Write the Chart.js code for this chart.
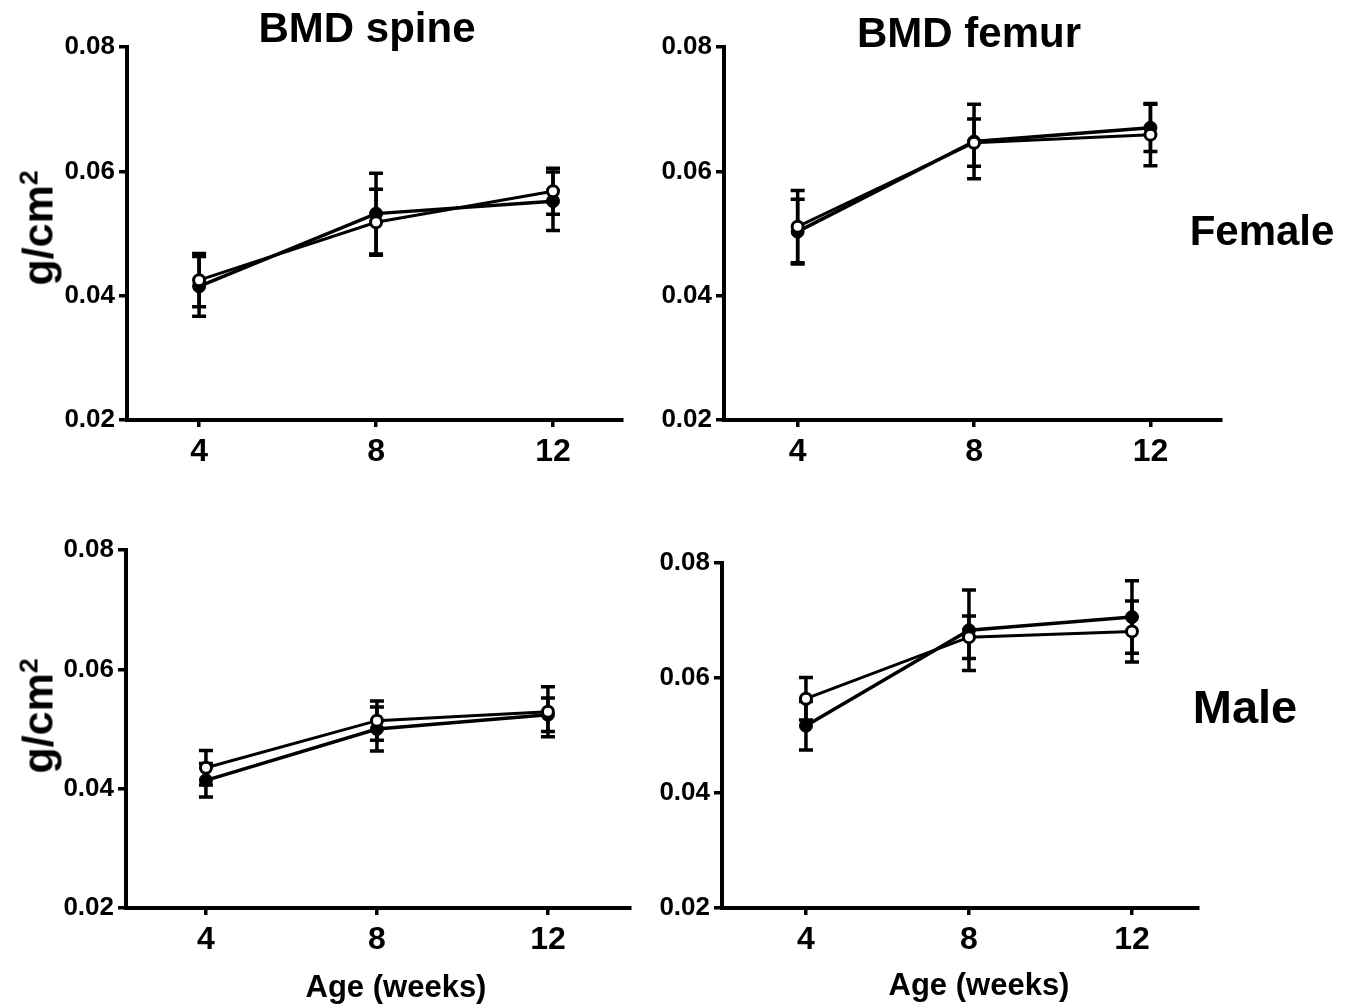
<!DOCTYPE html>
<html><head><meta charset="utf-8">
<script src="https://cdn.jsdelivr.net/npm/chart.js@4.4.0/dist/chart.umd.min.js"></script>
<style>
body{margin:0;background:#fff;width:1353px;height:1008px;position:relative;overflow:hidden;font-family:"Liberation Sans",Arial,Helvetica,sans-serif;}
canvas{position:absolute;}
.t{position:absolute;font-weight:bold;color:#000;white-space:nowrap;line-height:1;transform:translate(-50%,-50%);}
.rot{transform:translate(-50%,-50%) rotate(-90deg);}
.t sup{font-size:0.62em;vertical-align:0;position:relative;top:-0.55em;}
</style></head><body>
<script>
// ---- data ----
const weeks = [4, 8, 12];
const yTicks = [0.02, 0.04, 0.06, 0.08];
const spineFemaleFilled    = [0.0415, 0.0532, 0.0552];
const spineFemaleFilledErr = [0.0048, 0.0065, 0.0047];
const spineFemaleOpen      = [0.0425, 0.0518, 0.0568];
const spineFemaleOpenErr   = [0.0043, 0.0053, 0.0037];
const femurFemaleFilled    = [0.0503, 0.0648, 0.0670];
const femurFemaleFilledErr = [0.0052, 0.0060, 0.0038];
const femurFemaleOpen      = [0.0511, 0.0646, 0.0659];
const femurFemaleOpenErr   = [0.0058, 0.0038, 0.0050];
const spineMaleFilled      = [0.0414, 0.0500, 0.0524];
const spineMaleFilledErr   = [0.0028, 0.0037, 0.0028];
const spineMaleOpen        = [0.0435, 0.0514, 0.0529];
const spineMaleOpenErr     = [0.0029, 0.0033, 0.0042];
const femurMaleFilled      = [0.0517, 0.0683, 0.0706];
const femurMaleFilledErr   = [0.0042, 0.0070, 0.0063];
const femurMaleOpen        = [0.0564, 0.0671, 0.0681];
const femurMaleOpenErr     = [0.0037, 0.0037, 0.0053];

// ---- layout (plot area rectangles, x-range) ----
const panels = [
  {filled: spineFemaleFilled, filledErr: spineFemaleFilledErr, open: spineFemaleOpen, openErr: spineFemaleOpenErr,
   left:127, right:622, top:47, bottom:420, xmin:2.37, xmax:13.56},
  {filled: femurFemaleFilled, filledErr: femurFemaleFilledErr, open: femurFemaleOpen, openErr: femurFemaleOpenErr,
   left:724, right:1221, top:47, bottom:420, xmin:2.33, xmax:13.6},
  {filled: spineMaleFilled, filledErr: spineMaleFilledErr, open: spineMaleOpen, openErr: spineMaleOpenErr,
   left:126, right:630, top:550, bottom:908, xmin:2.13, xmax:13.92},
  {filled: femurMaleFilled, filledErr: femurMaleFilledErr, open: femurMaleOpen, openErr: femurMaleOpenErr,
   left:722, right:1198, top:563, bottom:908, xmin:1.94, xmax:13.62}
];

const FONT = '"Liberation Sans", Arial, Helvetica, sans-serif';
const YW = 90, XH = 70, PT = 20, PR = 20;

const errorBars = {
  id: 'errorBars',
  beforeDatasetsDraw(chart) {
    const ctx = chart.ctx, xs = chart.scales.x, ys = chart.scales.y;
    ctx.save();
    ctx.strokeStyle = '#000';
    ctx.lineWidth = 3.5;
    ctx.lineCap = 'butt';
    chart.data.datasets.forEach(ds => {
      ds.data.forEach((p, i) => {
        const e = ds.errors[i];
        const x = xs.getPixelForValue(p.x);
        const y1 = ys.getPixelForValue(p.y + e);
        const y2 = ys.getPixelForValue(p.y - e);
        const hw = 7;
        ctx.beginPath();
        ctx.moveTo(x, y1); ctx.lineTo(x, y2);
        ctx.moveTo(x - hw, y1); ctx.lineTo(x + hw, y1);
        ctx.moveTo(x - hw, y2); ctx.lineTo(x + hw, y2);
        ctx.stroke();
      });
    });
    ctx.restore();
  }
};

function pts(vals) { return weeks.map((w, i) => ({x: w, y: vals[i]})); }

panels.forEach(p => {
  const c = document.createElement('canvas');
  const w = (p.right - p.left) + YW + PR;
  const h = (p.bottom - p.top) + PT + XH;
  c.width = w; c.height = h;
  c.style.left = (p.left - YW) + 'px';
  c.style.top = (p.top - PT) + 'px';
  c.style.width = w + 'px'; c.style.height = h + 'px';
  document.body.appendChild(c);
  new Chart(c, {
    type: 'line',
    data: {
      datasets: [
        {data: pts(p.open), errors: p.openErr, order: 0,
         borderColor: '#000', borderWidth: 3, pointRadius: 5.5, pointBorderWidth: 3,
         pointBackgroundColor: '#fff', pointBorderColor: '#000', tension: 0},
        {data: pts(p.filled), errors: p.filledErr, order: 1,
         borderColor: '#000', borderWidth: 3.5, pointRadius: 6.5, pointBorderWidth: 1,
         pointBackgroundColor: '#000', pointBorderColor: '#000', tension: 0}
      ]
    },
    options: {
      responsive: false, animation: false, devicePixelRatio: 1,
      layout: {padding: {top: PT, right: PR, left: 0, bottom: 0}},
      plugins: {legend: {display: false}, tooltip: {enabled: false}},
      scales: {
        x: {
          type: 'linear', min: p.xmin, max: p.xmax,
          afterFit(s) { s.height = XH; },
          afterBuildTicks(s) { s.ticks = weeks.map(v => ({value: v})); },
          grid: {display: true, drawOnChartArea: false, drawTicks: true, tickLength: 7, lineWidth: 3.5, color: '#000'},
          border: {display: true, color: '#000', width: 4},
          ticks: {font: {family: FONT, size: 32, weight: 'bold'}, color: '#000', padding: 6, maxRotation: 0, autoSkip: false,
                  callback: v => String(v)}
        },
        y: {
          min: 0.02, max: 0.08,
          afterFit(s) { s.width = YW; },
          afterBuildTicks(s) { s.ticks = yTicks.map(v => ({value: v})); },
          grid: {display: true, drawOnChartArea: false, drawTicks: true, tickLength: 8, lineWidth: 3.5, color: '#000'},
          border: {display: true, color: '#000', width: 4},
          ticks: {font: {family: FONT, size: 26, weight: 'bold'}, color: '#000', padding: 4, autoSkip: false,
                  callback: v => v.toFixed(2)}
        }
      }
    },
    plugins: [errorBars]
  });
});

// ---- text labels ----
const labels = [
  {text: 'BMD spine', x: 367, y: 28, size: 42},
  {text: 'BMD femur', x: 969, y: 33, size: 42},
  {text: 'Female', x: 1262, y: 231, size: 42},
  {text: 'Male', x: 1245, y: 706, size: 47},
  {text: 'g/cm', sup: '2', x: 38, y: 228, size: 43, rot: true},
  {text: 'g/cm', sup: '2', x: 38, y: 716, size: 43, rot: true},
  {text: 'Age (weeks)', x: 396, y: 986, size: 31},
  {text: 'Age (weeks)', x: 979, y: 984, size: 31}
];
labels.forEach(l => {
  const d = document.createElement('div');
  d.className = 't' + (l.rot ? ' rot' : '');
  d.appendChild(document.createTextNode(l.text));
  if (l.sup) {
    const s = document.createElement('sup');
    s.textContent = l.sup;
    d.appendChild(s);
  }
  d.style.left = l.x + 'px';
  d.style.top = l.y + 'px';
  d.style.fontSize = l.size + 'px';
  d.style.fontFamily = FONT;
  document.body.appendChild(d);
});
</script>
</body></html>
